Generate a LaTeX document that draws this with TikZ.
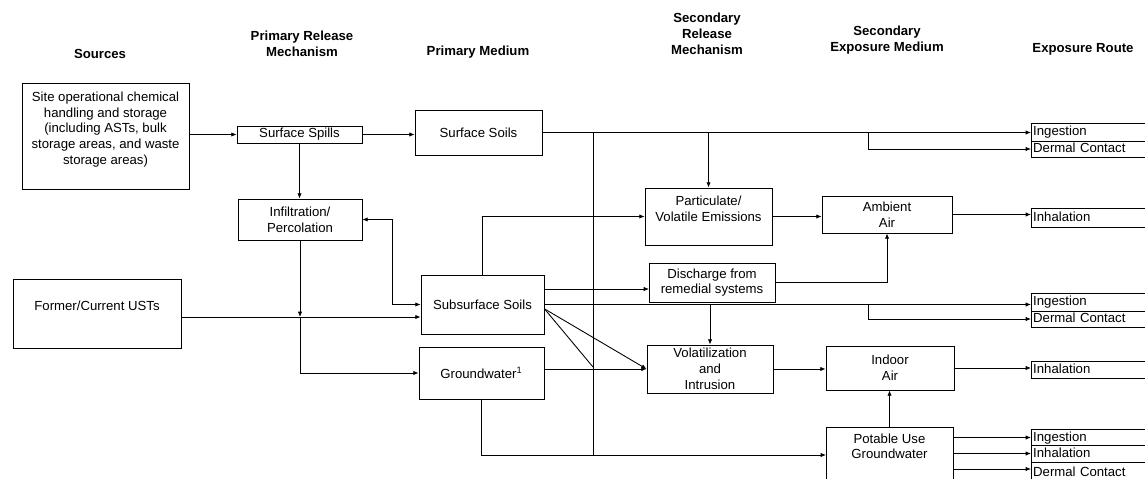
\documentclass[tikz,border=0pt]{standalone}
\usepackage{fontspec}
\setmainfont{Liberation Sans}
\usetikzlibrary{arrows.meta}

\tikzset{
	box/.style 2 args = {draw, align = center, inner sep = 1pt,
		minimum width = #1*0.02cm, minimum height = #2*0.02cm},
	route/.style = {draw, anchor = west, inner sep = 1pt, text width = 2.54cm,
		align = left, text height = 5.5pt, text depth = 1.5pt,
		minimum height = #1*0.02cm},
	head/.style = {font = \fontsize{7.5}{9}\selectfont\bfseries, align = center}
}

\begin{document}
\begin{tikzpicture}[x = 0.02cm, y = -0.02cm, > = {Latex[length = 3pt, width = 2.5pt]},
	font = \fontsize{7.5}{9}\selectfont, line width = 0.5pt]
	
	\useasboundingbox (0, 0) rectangle (1145, 479);
	\clip (0, 0) rectangle (1145, 479);
	
	% Column headings
	
	\node [head] (hsrc) at (100, 54) {Sources};
	\node [head] (hprm) at (302, 43.5) {Primary Release\\Mechanism};
	\node [head] (hpmed) at (478, 52) {Primary Medium};
	\node [head] (hsrm) at (707, 33.5) {Secondary\\Release\\Mechanism};
	\node [head] (hsem) at (887, 40.5) {Secondary\\Exposure Medium};
	\node [head] (hroute) at (1083, 49) {Exposure Route};
	
	% Sources
	
	\node [box = {167}{106}] (site) at (105.5, 136) {Site operational chemical\\handling and storage\\(including ASTs, bulk\\storage areas, and waste\\storage areas)\\~};
	\node [box = {168}{69}] (usts) at (97, 313.5) {Former/Current USTs\\~};
	
	% Primary release mechanisms
	
	\node [box = {125}{17}] (spills) at (299.5, 134.5) {Surface Spills};
	\node [box = {124}{41}] (infil) at (300, 219.5) {Infiltration/\\Percolation};
	
	% Primary media
	
	\node [box = {127}{45}] (surfsoil) at (478.5, 132.5) {Surface Soils};
	\node [box = {123}{59}] (subsoil) at (482.5, 304.5) {Subsurface Soils};
	\node [box = {125}{52}] (gw) at (481.5, 373) {Groundwater\textsuperscript{1}};
	
	% Secondary release mechanisms
	
	\node [box = {127}{57}] (partic) at (708.5, 216.5) {Particulate/\\Volatile Emissions\\~};
	\node [box = {126}{39}] (disch) at (712, 282.5) {Discharge from\\remedial systems};
	\node [box = {126}{48}, inner ysep = 0pt] (volat) at (710, 369) {Volatilization\\and\\Intrusion};
	
	% Secondary exposure media
	
	\node [box = {130}{37}] (ambient) at (887, 214.5) {Ambient\\Air};
	\node [box = {128}{44}] (indoor) at (890, 368) {Indoor\\Air};
	\node [box = {127}{70}] (potable) at (889.5, 462) {Potable Use\\Groundwater\\~\\~};
	
	% Exposure routes
	
	\node [route = 18] (ing1) at (1031, 132) {Ingestion};
	\node [route = 16] (der1) at (1031, 149) {Dermal Contact};
	\node [route = 19] (inh1) at (1031, 217.5) {Inhalation};
	\node [route = 18] (ing2) at (1031, 302) {Ingestion};
	\node [route = 16] (der2) at (1031, 319) {Dermal Contact};
	\node [route = 17] (inh2) at (1031, 369.5) {Inhalation};
	\node [route = 15] (ing3) at (1031, 437.5) {Ingestion};
	\node [route = 17] (inh3) at (1031, 453.5) {Inhalation};
	\node [route = 22] (der3) at (1031, 473) {Dermal Contact};
	
	% Junctions
	
	\coordinate (jUST) at (300, 317);
	\coordinate (jDis) at (649, 289);
	\coordinate (dropA) at (593, 132.5);
	\coordinate (dropB) at (868, 0);
	\coordinate (jDiag) at (593, 367);
	\coordinate (jPot) at (826, 455);
	
	% Pathways
	
	\begin{scope}[->]
	
		\draw (site.east |- spills.west) -- (spills.west);
		\draw (spills.east) -- (spills.east -| surfsoil.west);
		\draw (spills.south) -- (spills.south |- infil.north);
		\draw [<->] (infil.east) -- ++(30, 0) |- (subsoil.west);
		\draw (infil.south) -- (jUST);
		\draw (usts.east |- jUST) -- (subsoil.west |- jUST);
		\draw (jUST) |- (gw.west);
		
		\draw (surfsoil.east) -- (surfsoil.east -| ing1.west);
		\draw (surfsoil.east -| dropB) |- (der1.west);
		\draw (surfsoil.east -| partic.north) -- (partic.north);
		
		\draw (subsoil.north) |- (partic.west);
		\draw (subsoil.east |- jDis) -- (jDis);
		\draw (subsoil.east) -- (subsoil.east -| ing2.west);
		\draw (subsoil.east -| dropB) |- (der2.west);
		\draw (subsoil.east -| volat.north) -- (volat.north);
		\draw (subsoil.-4) -- (volat.west);
		
		\draw (gw.east |- volat.west) -- (volat.west);
		\draw (gw.south) |- (jPot);
		
		\draw (partic.east) -- (partic.east -| ambient.west);
		\draw (disch.east) -| (ambient.south);
		\draw (volat.east) -- (volat.east -| indoor.west);
		\draw (potable.north) -- (potable.north |- indoor.south);
		
		\draw (ambient.east) -- (ambient.east -| inh1.west);
		\draw (indoor.east) -- (indoor.east -| inh2.west);
		\draw (potable.east |- ing3.west) -- (ing3.west);
		\draw (potable.east |- inh3.west) -- (inh3.west);
		\draw (potable.east |- 0, 469) -- (der3.west |- 0, 469);
		
	\end{scope}
	
	% Plain lines
	
	\draw (dropA) -- (dropA |- jPot);
	\draw (subsoil.-4) -- (jDiag);

\end{tikzpicture}
\end{document}
